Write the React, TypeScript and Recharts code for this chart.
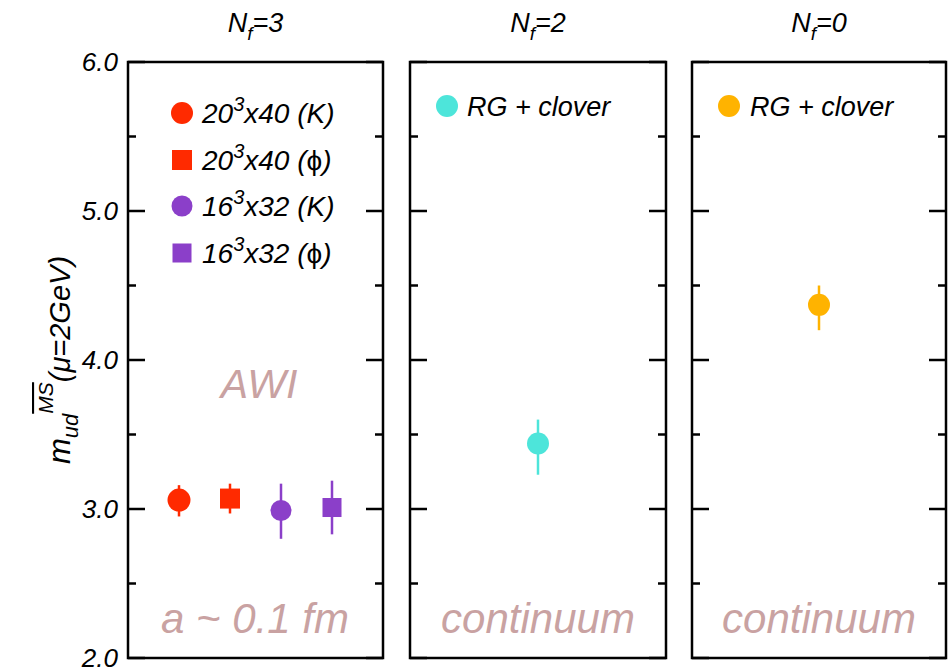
import React from 'react';
import { ScatterChart, Scatter, XAxis, YAxis, ErrorBar, ReferenceArea } from 'recharts';

const FONT = '"Liberation Sans", Arial, Helvetica, sans-serif';
const INK = '#000';
const NOTE = '#c9a2a2';

// axis: light-quark mass in MeV, MS-bar scheme at 2 GeV
const Y_DOMAIN = [2, 6];
const Y_TICKS = [2, 2.5, 3, 3.5, 4, 4.5, 5, 5.5, 6];
const FLAVOURS = ['3', '2', '0'];

// Nf=3 runs: two lattice volumes, strange mass fixed from K or phi
const NF3_VOLUME = ['20', '20', '16', '16'];
const NF3_TIME = ['x40', 'x40', 'x32', 'x32'];
const NF3_INPUT = ['K', 'ϕ', 'K', 'ϕ'];
const NF3_X = [1, 2, 3, 4];
const NF3_MASS = [3.06, 3.07, 2.99, 3.01];
const NF3_ERR_LO = [0.11, 0.1, 0.19, 0.18];
const NF3_ERR_HI = [0.1, 0.1, 0.18, 0.18];

// Nf=2 and quenched continuum values
const NF2_MASS = [3.44];
const NF2_ERR_LO = [0.21];
const NF2_ERR_HI = [0.16];
const NF0_MASS = [4.37];
const NF0_ERR_LO = [0.17];
const NF0_ERR_HI = [0.13];
const CONT_LABEL = 'RG + clover';

const NF3_STYLE = [
  { color: '#ff2a00', shape: 'circle', size: 11.5, legend: 11 },
  { color: '#ff2a00', shape: 'square', size: 10, legend: 10 },
  { color: '#8b3fc9', shape: 'circle', size: 10.5, legend: 10.5 },
  { color: '#8b3fc9', shape: 'square', size: 9.5, legend: 9.5 },
];
const NF2_COLOR = '#4de5da';
const NF0_COLOR = '#ffb300';

// panel geometry (page px)
const TOP = 62;
const BOTTOM = 658;
const PANELS = [
  { left: 0, width: 395, plotLeft: 128, plotRight: 383, xMax: 5 },
  { left: 395, width: 280, plotLeft: 410, plotRight: 666, xMax: 2 },
  { left: 675, width: 277, plotLeft: 692, plotRight: 946, xMax: 2 },
];

function makeTick(x0: number, x1: number, labels: boolean) {
  return (props: any) => {
    const { y, payload } = props;
    const v = payload.value as number;
    const major = Math.abs(v - Math.round(v)) < 1e-6;
    const len = major ? 17 : 8;
    return (
      <g>
        <line x1={x0} x2={x0 + len} y1={y} y2={y} stroke={INK} strokeWidth={2.5} />
        <line x1={x1 - len} x2={x1} y1={y} y2={y} stroke={INK} strokeWidth={2.5} />
        {labels && major && (
          <text
            x={x0 - 10}
            y={y}
            textAnchor="end"
            dominantBaseline="central"
            fontFamily={FONT}
            fontStyle="italic"
            fontSize={26}
            fill={INK}
          >
            {v.toFixed(1)}
          </text>
        )}
      </g>
    );
  };
}

function marker(shape: string, r: number, color: string) {
  return (p: any) =>
    shape === 'square' ? (
      <rect x={p.cx - r} y={p.cy - r} width={2 * r} height={2 * r} fill={color} />
    ) : (
      <circle cx={p.cx} cy={p.cy} r={r} fill={color} />
    );
}

type Pt = { x: number; y: number; err: number[] };

function Panel({ idx, series }: { idx: number; series: { data: Pt[]; color: string; shape: string; r: number }[] }) {
  const g = PANELS[idx];
  const axisW = g.plotLeft - g.left;
  const plotW = g.plotRight - g.plotLeft;
  return (
    <div style={{ position: 'absolute', left: g.left, top: 0 }}>
      <ScatterChart
        width={g.width}
        height={671}
        margin={{ top: TOP, bottom: 671 - BOTTOM, left: 0, right: g.width - axisW - plotW }}
      >
        <XAxis type="number" dataKey="x" domain={[0, g.xMax]} hide />
        <YAxis
          type="number"
          dataKey="y"
          domain={Y_DOMAIN}
          ticks={Y_TICKS}
          interval={0}
          width={axisW}
          axisLine={false}
          tickLine={false}
          tickSize={0}
          tick={makeTick(axisW, axisW + plotW, idx === 0)}
        />
        <ReferenceArea
          x1={0}
          x2={g.xMax}
          y1={Y_DOMAIN[0]}
          y2={Y_DOMAIN[1]}
          fill="none"
          fillOpacity={0}
          stroke={INK}
          strokeWidth={2.5}
        />
        {series.map((s, i) => (
          <Scatter key={i} data={s.data} shape={marker(s.shape, s.r, s.color)} isAnimationActive={false}>
            <ErrorBar
              dataKey="err"
              direction="y"
              width={0}
              stroke={s.color}
              strokeWidth={2.5}
              isAnimationActive={false}
            />
          </Scatter>
        ))}
      </ScatterChart>
    </div>
  );
}

function Title({ cx, nf }: { cx: number; nf: string }) {
  return (
    <text x={cx} y={32} textAnchor="middle" fontFamily={FONT} fontStyle="italic" fontSize={27} fill={INK}>
      <tspan>N</tspan>
      <tspan fontSize={19} dy={8}>f</tspan>
      <tspan dy={-8}>={nf}</tspan>
    </text>
  );
}

function Note({ cx, y, size, text }: { cx: number; y: number; size: number; text: string }) {
  return (
    <text x={cx} y={y} textAnchor="middle" fontFamily={FONT} fontStyle="italic" fontSize={size} fill={NOTE}>
      {text}
    </text>
  );
}

function Overlay() {
  const centers = PANELS.map((p) => (p.plotLeft + p.plotRight) / 2);
  const rows = [113, 160, 206, 253];
  return (
    <svg
      width={952}
      height={671}
      style={{ position: 'absolute', left: 0, top: 0, pointerEvents: 'none' }}
    >
      {FLAVOURS.map((nf, i) => (
        <Title key={nf} cx={centers[i]} nf={nf} />
      ))}

      {/* y-axis title */}
      <text
        transform="translate(70 360) rotate(-90)"
        textAnchor="middle"
        fontFamily={FONT}
        fontStyle="italic"
        fill={INK}
        fontSize={31}
      >
        <tspan>m</tspan>
        <tspan fontSize={22} dy={8}>ud</tspan>
        <tspan fontSize={21} dy={-25} textDecoration="overline">MS</tspan>
        <tspan fontSize={29} dy={17}>(μ=2GeV)</tspan>
      </text>

      {/* Nf=3 legend */}
      {NF3_STYLE.map((s, i) => (
        <g key={i}>
          {s.shape === 'square' ? (
            <rect x={182 - s.legend} y={rows[i] - s.legend} width={2 * s.legend} height={2 * s.legend} fill={s.color} />
          ) : (
            <circle cx={182} cy={rows[i]} r={s.legend} fill={s.color} />
          )}
          <text x={202} y={rows[i] + 10} fontFamily={FONT} fontStyle="italic" fontSize={28} fill={INK}>
            <tspan>{NF3_VOLUME[i]}</tspan>
            <tspan fontSize={20} dy={-12}>3</tspan>
            <tspan dy={12}>{NF3_TIME[i]} (</tspan>
            <tspan fontStyle={NF3_INPUT[i] === 'ϕ' ? 'normal' : 'italic'}>{NF3_INPUT[i]}</tspan>
            <tspan>)</tspan>
          </text>
        </g>
      ))}

      {/* continuum legends */}
      <circle cx={447} cy={106} r={11} fill={NF2_COLOR} />
      <text x={467} y={116} fontFamily={FONT} fontStyle="italic" fontSize={27} fill={INK}>
        {CONT_LABEL}
      </text>
      <circle cx={729} cy={106} r={11} fill={NF0_COLOR} />
      <text x={750} y={116} fontFamily={FONT} fontStyle="italic" fontSize={27} fill={INK}>
        {CONT_LABEL}
      </text>

      <Note cx={259} y={398} size={41} text="AWI" />
      <Note cx={255} y={633} size={42} text="a ~ 0.1 fm" />
      <Note cx={centers[1]} y={633} size={42} text="continuum" />
      <Note cx={centers[2]} y={633} size={42} text="continuum" />
    </svg>
  );
}

export default function App() {
  const nf3 = NF3_X.map((x, i) => ({
    data: [{ x, y: NF3_MASS[i], err: [NF3_ERR_LO[i], NF3_ERR_HI[i]] }],
    color: NF3_STYLE[i].color,
    shape: NF3_STYLE[i].shape,
    r: NF3_STYLE[i].size,
  }));
  const nf2 = NF2_MASS.map((y, i) => ({
    data: [{ x: 1, y, err: [NF2_ERR_LO[i], NF2_ERR_HI[i]] }],
    color: NF2_COLOR,
    shape: 'circle',
    r: 11,
  }));
  const nf0 = NF0_MASS.map((y, i) => ({
    data: [{ x: 1, y, err: [NF0_ERR_LO[i], NF0_ERR_HI[i]] }],
    color: NF0_COLOR,
    shape: 'circle',
    r: 11,
  }));

  return (
    <div style={{ position: 'absolute', left: 0, top: 0, width: 952, height: 671, background: '#fff' }}>
      <Panel idx={0} series={nf3} />
      <Panel idx={1} series={nf2} />
      <Panel idx={2} series={nf0} />
      <Overlay />
    </div>
  );
}
